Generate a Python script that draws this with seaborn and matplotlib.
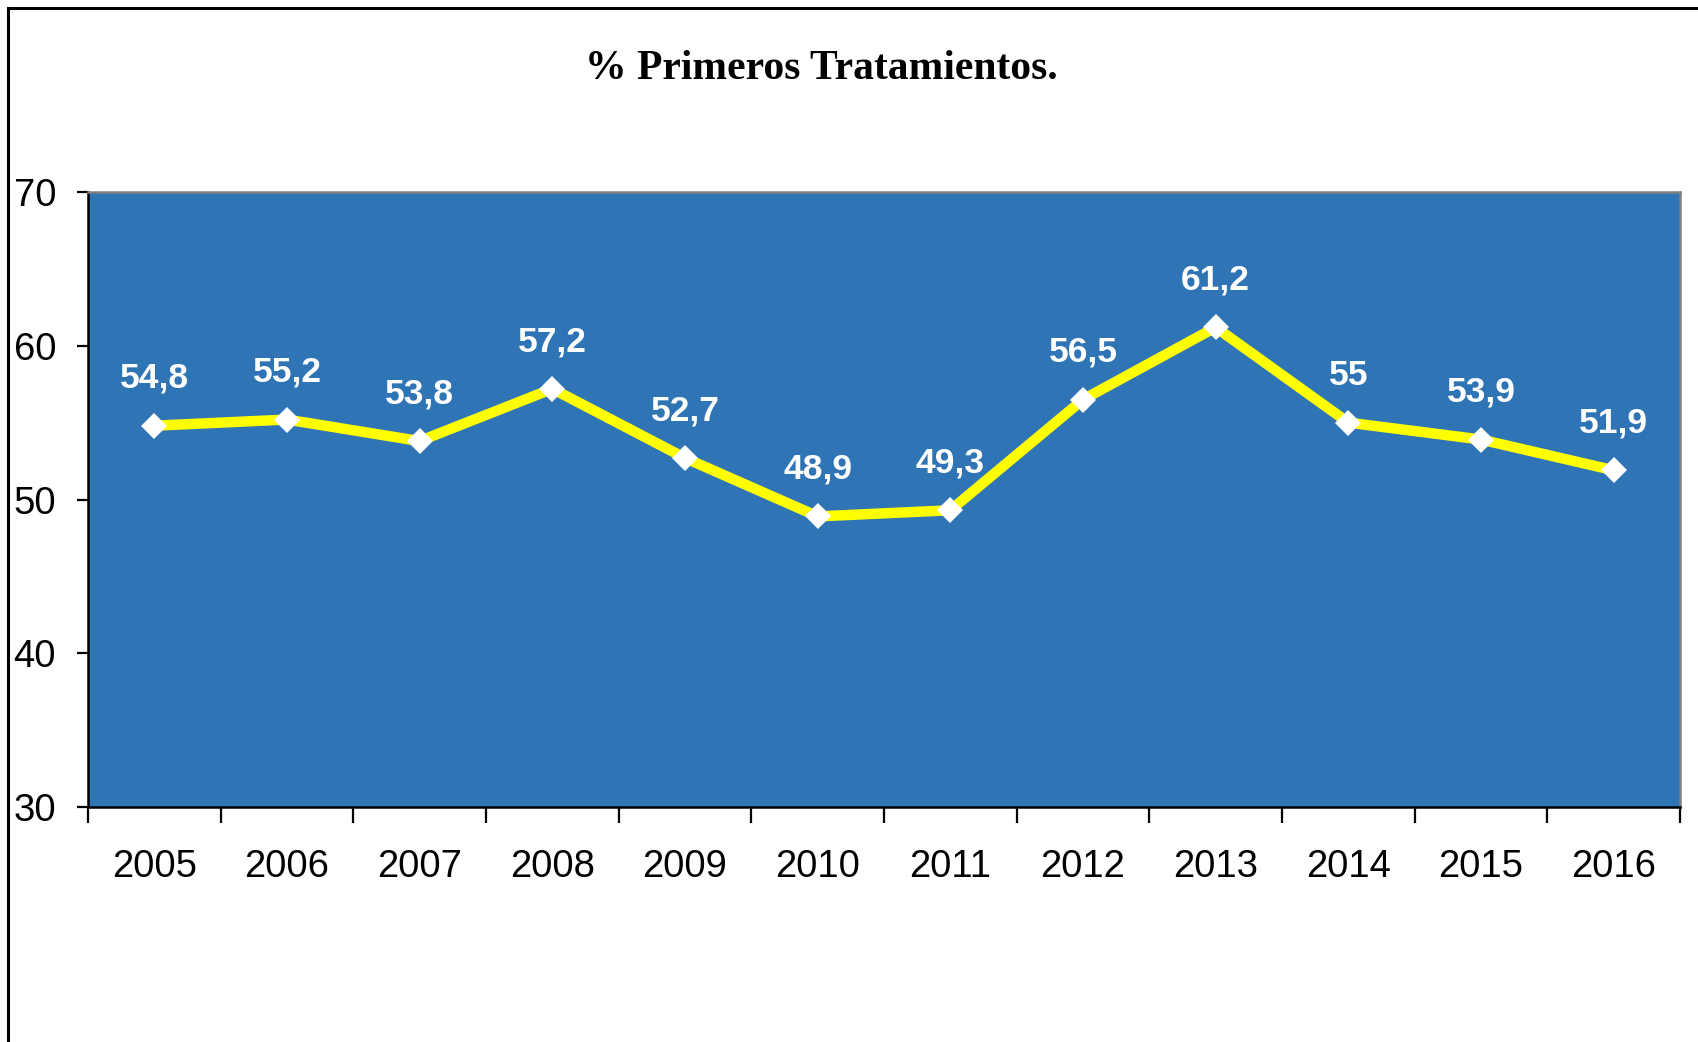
import matplotlib
matplotlib.use("Agg")
import matplotlib.pyplot as plt
import seaborn as sns
import pandas as pd
from matplotlib.patches import Rectangle
from matplotlib.ticker import FixedLocator

# Data
years = [2005, 2006, 2007, 2008, 2009, 2010, 2011, 2012, 2013, 2014, 2015, 2016]
pct_primeros = [54.8, 55.2, 53.8, 57.2, 52.7, 48.9, 49.3, 56.5, 61.2, 55.0, 53.9, 51.9]
y_ticks = [30, 40, 50, 60, 70]
title = "% Primeros Tratamientos."

df = pd.DataFrame({"year": years, "pct": pct_primeros})

sns.set_style("white")
plt.rcParams['font.family'] = ['Liberation Sans', 'DejaVu Sans']
# seaborn greys the text, the original is pure black
plt.rcParams['text.color'] = 'black'
plt.rcParams['xtick.color'] = 'black'
plt.rcParams['ytick.color'] = 'black'
plt.rcParams['xtick.labelcolor'] = 'black'
plt.rcParams['ytick.labelcolor'] = 'black'

fig = plt.figure(figsize=(16.98, 10.42), dpi=100)
W, H = 1698, 1042

# outer frame (cut off at right and bottom, like the source)
fig.patches.append(Rectangle((8 / W, -0.2), 1.2, 1 - 8 / H + 0.2, transform=fig.transFigure,
                             fill=False, edgecolor='black', linewidth=2.2))

ax = fig.add_axes([88 / W, 1 - 807 / H, (1680 - 88) / W, (807 - 192) / H])
ax.set_facecolor('#2F75B5')

sns.lineplot(data=df, x="year", y="pct", ax=ax, color='#FFFF00', linewidth=7.5,
             marker='D', markersize=13, markerfacecolor='white', markeredgecolor='white',
             markeredgewidth=0)

# data labels
for yr, v in zip(years, pct_primeros):
    lab = f"{v:g}".replace('.', ',')
    ax.annotate(lab, (yr, v), xytext=(0, 34), textcoords='offset points',
                ha='center', va='center', color='white', fontsize=25.5, fontweight='bold')

ax.set_xlim(years[0] - 0.5, years[-1] + 0.5)
ax.set_ylim(y_ticks[0], y_ticks[-1])
ax.set_yticks(y_ticks)
ax.set_xticks(years)
ax.xaxis.set_minor_locator(FixedLocator([y - 0.5 for y in years] + [years[-1] + 0.5]))
ax.tick_params(axis='x', which='major', length=0, pad=30, labelsize=27.5)
ax.tick_params(axis='x', which='minor', length=11.5, width=1.6, direction='out', bottom=True)
ax.tick_params(axis='y', which='major', length=8, width=1.6, direction='out', left=True,
               pad=15, labelsize=27.5)
ax.set_xlabel("")
ax.set_ylabel("")

for side in ['left', 'bottom']:
    ax.spines[side].set_color('black')
    ax.spines[side].set_linewidth(1.8)
for side in ['top', 'right']:
    ax.spines[side].set_color('#808080')
    ax.spines[side].set_linewidth(1.8)

fig.text(821 / W, 1 - 79 / H, title, ha='center', va='baseline', color='black',
         fontsize=30, fontweight='bold', family=['Liberation Serif', 'DejaVu Serif'])

fig.savefig("out.png", dpi=100)
